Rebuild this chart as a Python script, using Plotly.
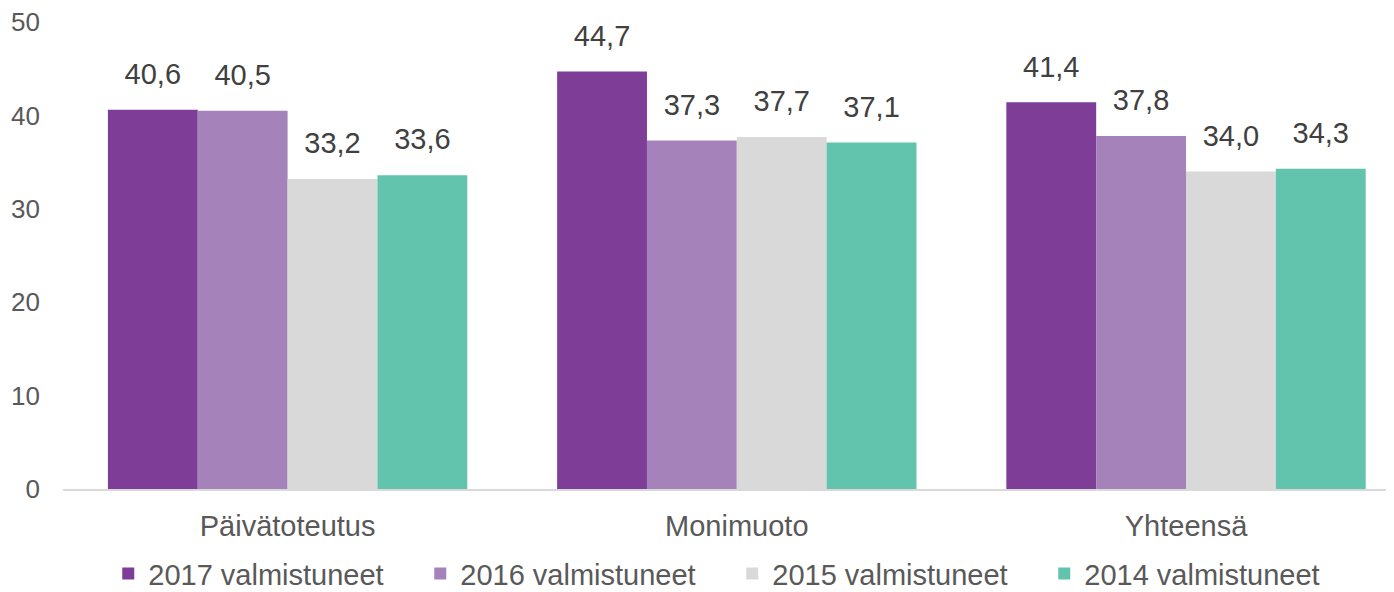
import plotly.graph_objects as go

categories = ["Päivätoteutus", "Monimuoto", "Yhteensä"]
series_names = ["2017 valmistuneet", "2016 valmistuneet", "2015 valmistuneet", "2014 valmistuneet"]
values_2017 = [40.6, 44.7, 41.4]
values_2016 = [40.5, 37.3, 37.8]
values_2015 = [33.2, 37.7, 34.0]
values_2014 = [33.6, 37.1, 34.3]
colors = ["#7E3D96", "#A682BB", "#D9D9D9", "#62C4AD"]
y_ticks = [0, 10, 20, 30, 40, 50]

FONT = "Liberation Sans, Arial, sans-serif"
all_values = [values_2017, values_2016, values_2015, values_2014]

fig = go.Figure()
for name, vals, col in zip(series_names, all_values, colors):
    fig.add_trace(go.Bar(
        x=categories, y=vals, name=name,
        marker=dict(color=col, line=dict(width=0)),
    ))
# value labels, grouped like the bars
for name, vals in zip(series_names, all_values):
    fig.add_trace(go.Scatter(
        x=categories, y=vals, mode="markers+text", showlegend=False,
        text=[f"{v:.1f}".replace(".", ",") for v in vals],
        textposition="top center",
        marker=dict(size=28, color="rgba(0,0,0,0)"),
        textfont=dict(family=FONT, size=29, color="#404040"),
        hoverinfo="skip", cliponaxis=False,
    ))

# the page body adds an 8px offset, so margins are compensated
fig.update_layout(
    width=1394, height=592,
    barmode="group", bargap=0.2, bargroupgap=0,
    scattermode="group", scattergap=0.2,
    separators=", ",
    plot_bgcolor="white", paper_bgcolor="white",
    margin=dict(l=55, r=8, t=14, b=111, autoexpand=False),
    font=dict(family=FONT, size=26, color="#595959"),
    showlegend=True,
    legend=dict(orientation="h", x=0.034, xanchor="left", y=-0.181, yanchor="middle",
                font=dict(family=FONT, size=29, color="#595959"),
                entrywidth=267, entrywidthmode="pixels", itemwidth=30,
                bgcolor="rgba(0,0,0,0)"),
    xaxis=dict(range=[-0.5, 2.463], showline=True, linecolor="#D9D9D9", linewidth=2,
               showgrid=False, ticks="", ticklabelstandoff=10, automargin=False,
               tickfont=dict(family=FONT, size=29, color="#595959")),
    yaxis=dict(range=[0, 50], tickvals=y_ticks, showgrid=False, zeroline=False,
               showline=False, ticks="", ticklabelstandoff=22, automargin=False,
               ticklabeloverflow="allow",
               tickfont=dict(family=FONT, size=26, color="#595959")),
)

fig.write_html("out.html")
